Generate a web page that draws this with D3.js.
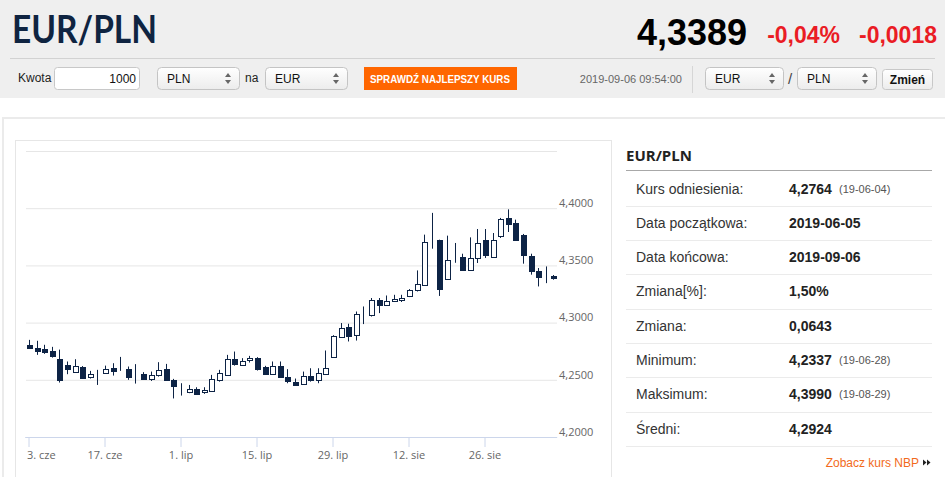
<!DOCTYPE html>
<html>
<head>
<meta charset="utf-8">
<title>EUR/PLN</title>
<script src="https://d3js.org/d3.v7.min.js"></script>
<style>
  body { margin: 0; background: #fff; overflow: hidden; }
  svg { display: block; font-family: "Liberation Sans", Arial, sans-serif; }
</style>
</head>
<body>
<svg id="page" width="945" height="477"></svg>
<script>
// trading days shown on the chart
var dates = [
  "2019-06-03","2019-06-04","2019-06-05","2019-06-06","2019-06-07",
  "2019-06-10","2019-06-11","2019-06-12","2019-06-13","2019-06-14",
  "2019-06-17","2019-06-18","2019-06-19","2019-06-20","2019-06-21",
  "2019-06-24","2019-06-25","2019-06-26","2019-06-27","2019-06-28",
  "2019-07-01","2019-07-02","2019-07-03","2019-07-04","2019-07-05",
  "2019-07-08","2019-07-09","2019-07-10","2019-07-11","2019-07-12",
  "2019-07-15","2019-07-16","2019-07-17","2019-07-18","2019-07-19",
  "2019-07-22","2019-07-23","2019-07-24","2019-07-25","2019-07-26",
  "2019-07-29","2019-07-30","2019-07-31","2019-08-01","2019-08-02",
  "2019-08-05","2019-08-06","2019-08-07","2019-08-08","2019-08-09",
  "2019-08-12","2019-08-13","2019-08-14","2019-08-15","2019-08-16",
  "2019-08-19","2019-08-20","2019-08-21","2019-08-22","2019-08-23",
  "2019-08-26","2019-08-27","2019-08-28","2019-08-29","2019-08-30",
  "2019-09-02","2019-09-03","2019-09-04","2019-09-05","2019-09-06"
];

var open = [
  4.2806,4.2782,4.2768,4.2753,4.2683,4.2631,4.2567,4.2616,4.2523,4.2540,
  4.2567,4.2607,4.2580,4.2593,4.2513,4.2554,4.2511,4.2543,4.2593,4.2500,
  4.2410,4.2397,4.2418,4.2391,4.2405,4.2505,4.2543,4.2680,4.2637,4.2668,
  4.2689,4.2616,4.2549,4.2622,4.2528,4.2482,4.2461,4.2537,4.2500,4.2552,
  4.2703,4.2878,4.2961,4.2893,4.3083,4.3060,4.3194,4.3150,4.3185,4.3194,
  4.3228,4.3281,4.3331,4.3725,4.3725,4.3381,4.3533,4.3574,4.3462,4.3565,
  4.3719,4.3574,4.3754,4.3915,4.3871,4.3762,4.3579,4.3454,4.3405,4.3404
];
var high = [
  4.2849,4.2841,4.2806,4.2788,4.2764,4.2660,4.2680,4.2620,4.2578,4.2587,
  4.2624,4.2645,4.2700,4.2616,4.2637,4.2567,4.2572,4.2654,4.2639,4.2508,
  4.2470,4.2455,4.2435,4.2435,4.2543,4.2587,4.2718,4.2747,4.2689,4.2709,
  4.2698,4.2622,4.2660,4.2660,4.2593,4.2511,4.2572,4.2601,4.2601,4.2756,
  4.2890,4.2996,4.2990,4.3097,4.3141,4.3215,4.3215,4.3237,4.3243,4.3243,
  4.3293,4.3456,4.3769,4.3959,4.3725,4.3760,4.3696,4.3602,4.3745,4.3818,
  4.3818,4.3783,4.3915,4.3990,4.3900,4.3775,4.3602,4.3477,4.3491,4.3416
];
var low = [
  4.2779,4.2718,4.2727,4.2694,4.2476,4.2549,4.2567,4.2520,4.2511,4.2455,
  4.2552,4.2537,4.2578,4.2500,4.2467,4.2505,4.2490,4.2528,4.2491,4.2337,
  4.2362,4.2383,4.2368,4.2377,4.2403,4.2484,4.2534,4.2624,4.2631,4.2651,
  4.2581,4.2549,4.2549,4.2523,4.2470,4.2447,4.2455,4.2484,4.2470,4.2552,
  4.2700,4.2873,4.2835,4.2843,4.2987,4.3053,4.3083,4.3150,4.3180,4.3180,
  4.3223,4.3272,4.3331,4.3646,4.3233,4.3375,4.3523,4.3456,4.3456,4.3521,
  4.3565,4.3574,4.3740,4.3792,4.3719,4.3515,4.3419,4.3316,4.3345,4.3375
];
var close = [
  4.2782,4.2756,4.2738,4.2712,4.2500,4.2593,4.2619,4.2523,4.2549,4.2542,
  4.2598,4.2578,4.2581,4.2519,4.2510,4.2514,4.2543,4.2589,4.2500,4.2449,
  4.2412,4.2420,4.2377,4.2412,4.2508,4.2563,4.2680,4.2639,4.2668,4.2689,
  4.2593,4.2552,4.2622,4.2528,4.2493,4.2453,4.2534,4.2505,4.2558,4.2602,
  4.2887,4.2957,4.2884,4.3077,4.3085,4.3194,4.3147,4.3185,4.3205,4.3215,
  4.3281,4.3337,4.3705,4.3727,4.3293,4.3550,4.3535,4.3462,4.3565,4.3696,
  4.3588,4.3719,4.3906,4.3862,4.3725,4.3588,4.3448,4.3404,4.3403,4.3389
];

var tickDates = ["2019-06-03","2019-06-17","2019-07-01","2019-07-15","2019-07-29","2019-08-12","2019-08-26"];
var tickLabels = ["3. cze","17. cze","1. lip","15. lip","29. lip","12. sie","26. sie"];
var yTicks = [4.20, 4.25, 4.30, 4.35, 4.40, 4.45];

var statLabels = ["Kurs odniesienia:","Data początkowa:","Data końcowa:","Zmiana[%]:","Zmiana:","Minimum:","Maksimum:","Średni:"];
var statValues = ["4,2764","2019-06-05","2019-09-06","1,50%","0,0643","4,2337","4,3990","4,2924"];
var statNotes  = ["(19-06-04)","","","","","(19-06-28)","(19-08-29)",""];

var navy = "#0d2345";
var svg = d3.select("#page");

// ---------- header ----------
svg.append("rect").attr("x", 0).attr("y", 0).attr("width", 945).attr("height", 98).attr("fill", "#efefef");

svg.append("text").attr("x", 12).attr("y", 43)
  .attr("textLength", 145).attr("lengthAdjust", "spacingAndGlyphs")
  .style("font-family", "Lato, sans-serif").style("font-weight", 700).style("font-size", "38px")
  .attr("fill", "#0f2441").text("EUR/PLN");

svg.append("text").attr("x", 747).attr("y", 45).attr("text-anchor", "end")
  .style("font-weight", 700).style("font-size", "36px").attr("fill", "#000").text("4,3389");
svg.append("text").attr("x", 840).attr("y", 43).attr("text-anchor", "end")
  .style("font-weight", 700).style("font-size", "23px").attr("fill", "#ea1c24").text("-0,04%");
svg.append("text").attr("x", 937).attr("y", 43).attr("text-anchor", "end")
  .style("font-weight", 700).style("font-size", "23px").attr("fill", "#ea1c24").text("-0,0018");

svg.append("line").attr("x1", 10).attr("x2", 935).attr("y1", 58.5).attr("y2", 58.5).attr("stroke", "#d2d2d2");

// gradients for form controls
var defs = svg.append("defs");
var grad = defs.append("linearGradient").attr("id", "ctrl").attr("x1", 0).attr("x2", 0).attr("y1", 0).attr("y2", 1);
grad.append("stop").attr("offset", "0%").attr("stop-color", "#ffffff");
grad.append("stop").attr("offset", "100%").attr("stop-color", "#ececec");

function selectBox(x, y, w, h, label) {
  var g = svg.append("g").attr("transform", "translate(" + x + "," + y + ")");
  g.append("rect").attr("x", 0.5).attr("y", 0.5).attr("width", w).attr("height", h).attr("rx", 4)
    .attr("fill", "url(#ctrl)").attr("stroke", "#c4c4c4");
  g.append("text").attr("x", 10).attr("y", h / 2 + 4.5).style("font-size", "12px").attr("fill", "#111").text(label);
  var ax = w - 11, ay = h / 2;
  g.append("path").attr("d", "M" + (ax - 3) + "," + (ay - 1) + "L" + ax + "," + (ay - 5) + "L" + (ax + 3) + "," + (ay - 1) + "Z").attr("fill", "#666");
  g.append("path").attr("d", "M" + (ax - 3) + "," + (ay + 2) + "L" + ax + "," + (ay + 6) + "L" + (ax + 3) + "," + (ay + 2) + "Z").attr("fill", "#666");
}

svg.append("text").attr("x", 18).attr("y", 82).style("font-size", "12px").attr("fill", "#222").text("Kwota");
svg.append("rect").attr("x", 54.5).attr("y", 67.5).attr("width", 85).attr("height", 22).attr("rx", 3)
  .attr("fill", "#fff").attr("stroke", "#c8c8c8");
svg.append("text").attr("x", 136).attr("y", 83).attr("text-anchor", "end").style("font-size", "12px").attr("fill", "#111").text("1000");
selectBox(157, 67, 82, 22, "PLN");
svg.append("text").attr("x", 245).attr("y", 82).style("font-size", "12px").attr("fill", "#222").text("na");
selectBox(265, 67, 82, 22, "EUR");

svg.append("rect").attr("x", 364).attr("y", 67).attr("width", 153).attr("height", 23).attr("fill", "#ff6600");
svg.append("text").attr("x", 370).attr("y", 83)
  .attr("textLength", 140).attr("lengthAdjust", "spacingAndGlyphs")
  .style("font-weight", 700).style("font-size", "11px").attr("fill", "#fff").text("SPRAWDŹ NAJLEPSZY KURS");

svg.append("text").attr("x", 682).attr("y", 83).attr("text-anchor", "end").style("font-size", "11px").attr("fill", "#666").text("2019-09-06 09:54:00");
svg.append("line").attr("x1", 692.5).attr("x2", 692.5).attr("y1", 66).attr("y2", 93).attr("stroke", "#d6d6d6");
selectBox(705, 67, 78, 22, "EUR");
svg.append("text").attr("x", 788).attr("y", 84).style("font-size", "15px").attr("fill", "#444").text("/");
selectBox(797, 67, 79, 22, "PLN");
svg.append("rect").attr("x", 882.5).attr("y", 69.5).attr("width", 50).attr("height", 20).attr("rx", 3)
  .attr("fill", "url(#ctrl)").attr("stroke", "#c8c8c8");
svg.append("text").attr("x", 907.5).attr("y", 84).attr("text-anchor", "middle")
  .style("font-weight", 700).style("font-size", "12px").attr("fill", "#111").text("Zmień");

// ---------- panels ----------
svg.append("rect").attr("x", 3).attr("y", 118).attr("width", 960).attr("height", 400)
  .attr("fill", "none").attr("stroke", "#ebebeb").attr("stroke-width", 2);
svg.append("rect").attr("x", 15.5).attr("y", 140.5).attr("width", 596).attr("height", 400)
  .attr("fill", "#fff").attr("stroke", "#e6e6e6");

// ---------- candlestick chart ----------
var x = d3.scaleBand().domain(dates).range([25.2, 557.2]).padding(0);
var y = d3.scaleLinear().domain([4.20, 4.45]).range([437, 151]);

var yAxis = svg.append("g").attr("transform", "translate(557,0)")
  .call(d3.axisRight(y).tickValues(yTicks).tickSize(-531)
    .tickFormat(function (d) { return d > 4.44 ? "" : d3.format(".4f")(d).replace(".", ","); }));
yAxis.select(".domain").remove();
yAxis.selectAll(".tick line").attr("stroke", "#e6e6e6");
yAxis.selectAll(".tick text").attr("x", 2).attr("dy", "-0.15em").attr("fill", "#666")
  .style("font-family", "'Open Sans', sans-serif").style("font-size", "11px");

var xAxis = svg.append("g").attr("transform", "translate(0,437)")
  .call(d3.axisBottom(x).tickValues(tickDates).tickSize(10).tickSizeOuter(0)
    .tickFormat(function (d) { return tickLabels[tickDates.indexOf(d)]; }));
xAxis.select(".domain").attr("stroke", "#ccd6eb").attr("d", "M25.2,0.5H557.2");
xAxis.selectAll(".tick line").attr("stroke", "#ccd6eb");
xAxis.selectAll(".tick text").attr("y", 14).attr("fill", "#666")
  .style("font-family", "'Open Sans', sans-serif").style("font-size", "11px");
xAxis.selectAll(".tick text").filter(function (d, i) { return i === 0; })
  .attr("text-anchor", "start").attr("x", -2);

var candles = svg.append("g");
dates.forEach(function (d, i) {
  var cx = Math.round(x(d) + x.bandwidth() / 2) + 0.5;
  var up = close[i] >= open[i];
  candles.append("line")
    .attr("x1", cx).attr("x2", cx)
    .attr("y1", y(high[i])).attr("y2", y(low[i]))
    .attr("stroke", navy).attr("stroke-width", 1);
  var top = y(Math.max(open[i], close[i]));
  var bot = y(Math.min(open[i], close[i]));
  candles.append("rect")
    .attr("x", cx - 2).attr("y", Math.round(top) + 0.5)
    .attr("width", 5).attr("height", Math.max(0, Math.round(bot - top)))
    .attr("fill", up ? "#fff" : navy)
    .attr("stroke", navy).attr("stroke-width", 1);
});

// ---------- stats table ----------
svg.append("text").attr("x", 626).attr("y", 161)
  .style("font-family", "'Open Sans', sans-serif").style("font-weight", 700).style("font-size", "15px")
  .attr("fill", "#222").text("EUR/PLN");
svg.append("line").attr("x1", 626).attr("x2", 932).attr("y1", 170.5).attr("y2", 170.5).attr("stroke", "#a8a8a8");

var rowH = 34.3;
statLabels.forEach(function (lab, i) {
  var cy = 188.5 + i * rowH;
  svg.append("text").attr("x", 636).attr("y", cy + 5).style("font-size", "14px").attr("fill", "#333").text(lab);
  svg.append("text").attr("x", 789).attr("y", cy + 5).style("font-size", "14px").style("font-weight", 700)
    .attr("fill", "#222").text(statValues[i]);
  if (statNotes[i]) {
    svg.append("text").attr("x", 839).attr("y", cy + 4).style("font-size", "11px").attr("fill", "#555").text(statNotes[i]);
  }
  var sy = Math.round(cy + 17.3) + 0.5;
  svg.append("line").attr("x1", 626).attr("x2", 932).attr("y1", sy).attr("y2", sy).attr("stroke", "#ebebeb");
});

svg.append("text").attr("x", 919).attr("y", 467).attr("text-anchor", "end").style("font-size", "12px")
  .attr("fill", "#f26a1b").text("Zobacz kurs NBP");
svg.append("path").attr("d", "M923,459.5L926.5,462.5L923,465.5Z M927,459.5L930.5,462.5L927,465.5Z").attr("fill", "#222");
</script>
</body>
</html>
